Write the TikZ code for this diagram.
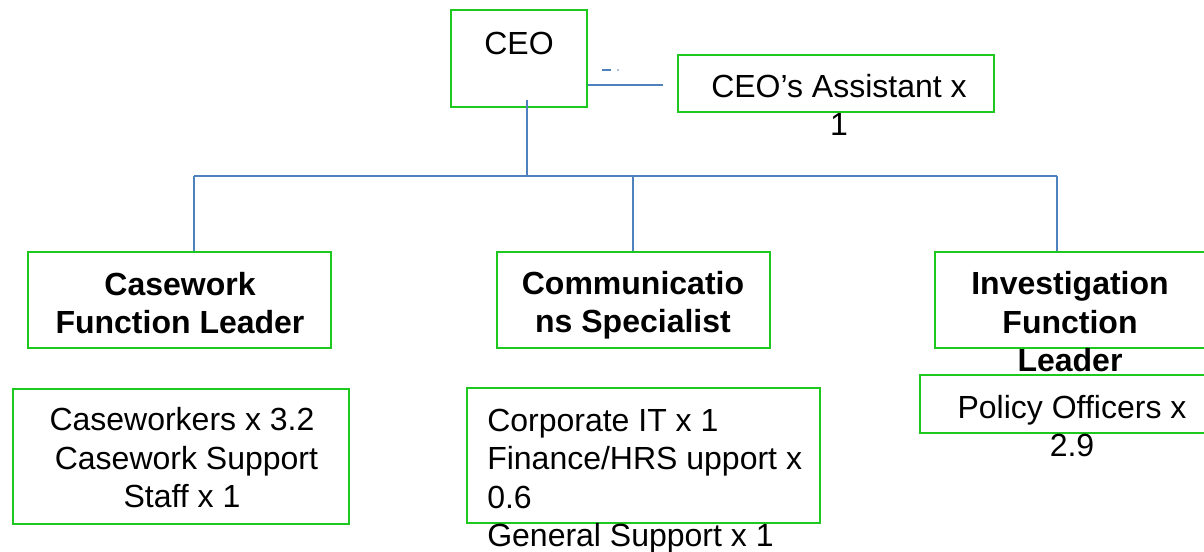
\documentclass[tikz,border=0pt]{standalone}
\usepackage{fontspec}
\setmainfont{Liberation Sans}
\usetikzlibrary{fit}
\definecolor{boxgreen}{RGB}{30,200,30}
\definecolor{linkblue}{RGB}{79,129,189}

\begin{document}
\begin{tikzpicture}[x=0.75pt,y=0.75pt,yscale=-1,xscale=1,
  box/.style={draw=boxgreen, line width=1.2pt, inner sep=0pt},
  link/.style={draw=linkblue, line width=0.9pt},
  txt/.style={inner sep=0pt, align=center, font=\fontsize{24}{28.9}\selectfont},
  boldtxt/.style={txt, font=\fontsize{24}{28.9}\selectfont\bfseries}]
\clip (0,0) rectangle (1204,552); %set diagram size 1204 x 552

% Box
\node [box, fit={(451,10) (587,107)}] (ceo) {};
% Box
\node [box, fit={(678,55) (994,112)}] (asst) {};
% Box
\node [box, fit={(28,252) (331,348)}] (casework) {};
% Box
\node [box, fit={(497,252) (770,348)}] (comms) {};
% Box
\node [box, fit={(935,252) (1215,348)}] (invest) {};
% Box
\node [box, fit={(13,389) (349,524)}] (caseStaff) {};
% Box
\node [box, fit={(467,388) (820,523)}] (corpStaff) {};
% Box
\node [box, fit={(920,375) (1215,433)}] (policy) {};

% Text Node
\node [txt] (ceoText) at (519,43) {CEO};
% Text Node
\node [txt] (asstText) at (839,105) {CEO’s Assistant x\\1};
% Text Node
\node [boldtxt] (caseworkText) at (180,303) {Casework\\Function Leader};
% Text Node
\node [boldtxt] (commsText) at (633,305) {Communicatio\\ns Specialist};
% Text Node
\node [boldtxt] (investText) at (1070,322) {Investigation\\Function\\Leader};
% Text Node
\node [txt] (caseStaffText) at (182,458) {Caseworkers x 3.2\\\ Casework Support\\Staff x 1};
% Text Node
\node [txt, align=left, anchor=west] (corpStaffText) at (487,481) {Corporate IT x 1\\Finance/HRS upport x\\0.6\\General Support x 1};
% Text Node
\node [txt] (policyText) at (1072,426) {Policy Officers x\\2.9};

% Connection
\coordinate (asstIn) at (663,85);
\draw [link] (ceo.east |- asstIn) -- (asstIn);
% stray mark
\draw [link] (602,70) -- (611,70);
\fill [linkblue] (618,70) circle (0.8);
% Connection
\coordinate (ceoDrop) at (527,100);
\coordinate (busL) at (194,176);
\coordinate (busM) at (633,176);
\coordinate (busR) at (1057,176);
\draw [link] (ceoDrop) -- (ceoDrop |- busL);
\draw [link] (busL) -- (busR);
% Connection
\draw [link] (busL) -- (busL |- casework.north);
\draw [link] (busM) -- (busM |- comms.north);
\draw [link] (busR) -- (busR |- invest.north);

\end{tikzpicture}
\end{document}
